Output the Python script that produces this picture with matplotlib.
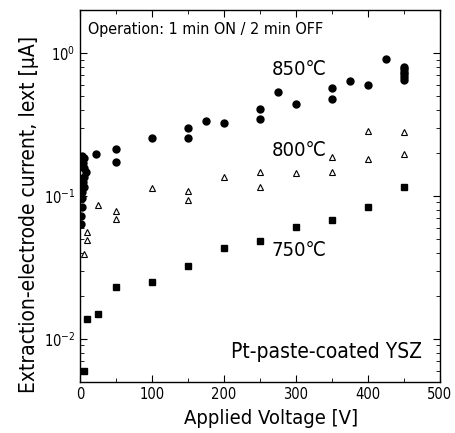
import matplotlib
matplotlib.use("Agg")
import matplotlib.pyplot as plt
from matplotlib.ticker import LogLocator, MultipleLocator, FixedLocator

plt.rcParams['font.family'] = ['DejaVu Sans']
plt.rcParams['font.stretch'] = 'condensed'

# 850 C (filled circles)
v850 = [1, 1, 2, 2, 3, 5, 4, 6, 8, 6, 4, 5, 3, 22, 50, 50, 100, 150, 150,
        175, 200, 250, 250, 275, 300, 350, 350, 375, 400, 425,
        450, 450, 450, 450, 450, 450]
i850 = [0.064, 0.072, 0.084, 0.096, 0.107, 0.116, 0.126, 0.136, 0.148, 0.158,
        0.170, 0.183, 0.19, 0.196, 0.212, 0.172, 0.256, 0.297, 0.256,
        0.333, 0.324, 0.408, 0.347, 0.531, 0.440, 0.572, 0.477, 0.634, 0.598, 0.903,
        0.80, 0.77, 0.74, 0.71, 0.68, 0.65]

# 800 C (open triangles)
v800 = [5, 10, 10, 25, 50, 50, 100, 150, 150, 200, 250, 250, 300,
        350, 350, 400, 400, 450, 450]
i800 = [0.039, 0.049, 0.0557, 0.0865, 0.079, 0.069, 0.113, 0.109, 0.094, 0.136,
        0.146, 0.116, 0.144, 0.188, 0.147, 0.283, 0.181, 0.281, 0.196]

# 750 C (filled squares)
v750 = [5, 10, 25, 50, 100, 150, 200, 250, 300, 350, 400, 450]
i750 = [0.006, 0.0138, 0.0150, 0.0229, 0.025, 0.0324, 0.043, 0.048,
        0.0604, 0.068, 0.084, 0.116]

fig = plt.figure(figsize=(4.55, 4.33), dpi=100)
ax = fig.add_axes([0.176, 0.118, 0.791, 0.859])

ax.plot(v850, i850, 'o', color='black', markersize=5, linestyle='none')
ax.plot(v800, i800, '^', markerfacecolor='white', markeredgecolor='black',
        markeredgewidth=0.8, markersize=5, linestyle='none')
ax.plot(v750, i750, 's', color='black', markersize=3.8, linestyle='none')

ax.set_yscale('log')
ax.set_xlim(0, 500)
ax.set_ylim(0.005, 2)
ax.xaxis.set_major_locator(MultipleLocator(100))
ax.xaxis.set_minor_locator(MultipleLocator(50))
ax.yaxis.set_major_locator(FixedLocator([0.01, 0.1, 1]))
ax.yaxis.set_minor_locator(LogLocator(base=10, subs=range(2, 10)))
ax.set_yticklabels([r'$10^{-2}$', r'$10^{-1}$', r'$10^{0}$'], fontsize=7.5)
ax.tick_params(which='both', direction='in', top=True, right=True)
ax.tick_params(which='major', length=5, labelsize=10.5)
ax.tick_params(which='minor', length=3)
for s in ax.spines.values():
    s.set_linewidth(1.0)

ax.set_xlabel('Applied Voltage [V]', fontsize=14.5)
ax.set_ylabel('Extraction-electrode current, Iext [\u03bcA]', fontsize=15)
ax.xaxis.set_label_coords(0.53, -0.072)
ax.yaxis.set_label_coords(-0.115, 0.45)

ax.text(0.022, 0.968, 'Operation: 1 min ON / 2 min OFF', transform=ax.transAxes,
        fontsize=11.5, va='top', ha='left')
ax.text(0.533, 0.865, '850\u2103', transform=ax.transAxes, fontsize=14.5, va='top')
ax.text(0.533, 0.648, '800\u2103', transform=ax.transAxes, fontsize=14.5, va='top')
ax.text(0.533, 0.380, '750\u2103', transform=ax.transAxes, fontsize=14.5, va='top')
ax.text(0.95, 0.054, 'Pt-paste-coated YSZ', transform=ax.transAxes,
        fontsize=15, va='bottom', ha='right')

fig.savefig('out.png', dpi=100)
